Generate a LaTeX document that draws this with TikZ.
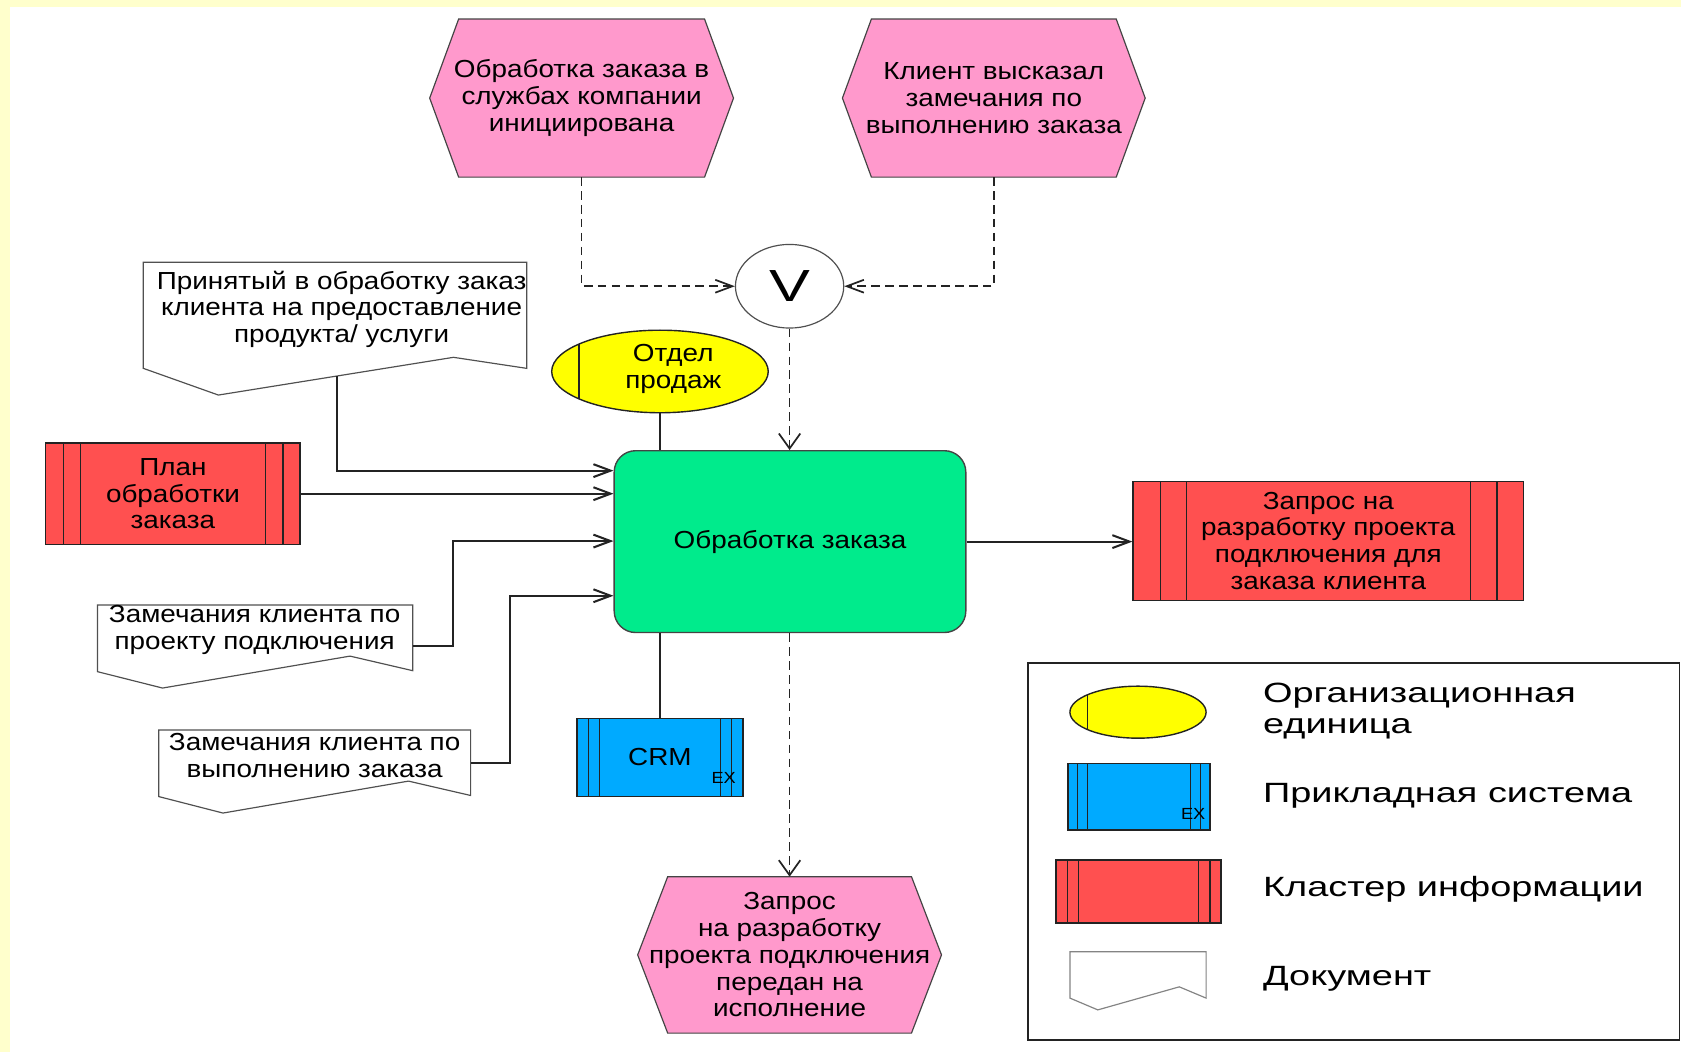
\documentclass[tikz,border=0pt]{standalone}
\usepackage{fontspec}
\setmainfont{Liberation Sans}[FakeStretch=1.13]
\newfontfamily\legendfont{Liberation Sans}[FakeStretch=1.36]
\usetikzlibrary{arrows.meta,calc,shapes.geometric}

\definecolor{pagebg}{RGB}{255,255,204}
\definecolor{evtpink}{RGB}{255,153,204}
\definecolor{fngreen}{RGB}{0,235,140}
\definecolor{infored}{RGB}{255,80,80}
\definecolor{sysblue}{RGB}{0,170,255}
\definecolor{orgyellow}{RGB}{255,255,0}
\definecolor{edge}{RGB}{35,35,35}
\definecolor{docedge}{RGB}{80,80,80}

\pgfdeclarelayer{canvas}
\pgfdeclarelayer{shapes}
\pgfsetlayers{canvas,shapes,main}

\tikzset{
  every node/.style={font=\fontsize{23}{25}\selectfont, text=black},
  txt/.style={inner sep=0pt, align=center},
  evtbox/.style={inner sep=0pt, align=center},
  evtline/.style={fill=evtpink, draw=edge!85, line width=1.1pt},
  fnbox/.style={draw=edge!85, line width=1.3pt, fill=fngreen, rounded corners=20pt, inner sep=0pt},
  orgunit/.style={ellipse, draw=edge, line width=1.3pt, fill=orgyellow, inner sep=0pt,
    path picture={
      \draw[edge, line width=1.3pt]
        ($(path picture bounding box.north west)!#1!(path picture bounding box.north east)$) --
        ($(path picture bounding box.south west)!#1!(path picture bounding box.south east)$);
    }},
  barred/.style={draw=edge, line width=1.4pt, inner sep=0pt, align=center,
    path picture={
      \foreach \f in {0.07,0.137,0.864,0.932}
        \draw[edge, line width=1.4pt]
          ($(path picture bounding box.north west)!\f!(path picture bounding box.north east)$) --
          ($(path picture bounding box.south west)!\f!(path picture bounding box.south east)$);
    }},
  cluster/.style={barred, fill=infored},
  sysbox/.style={barred, fill=sysblue},
  extag/.style={inner sep=0pt, font=\fontsize{15}{15}\selectfont},
  docline/.style={fill=white, draw=docedge, line width=1.1pt},
  xornode/.style={ellipse, draw=edge!80, line width=1.1pt, fill=white, inner sep=0pt,
    minimum width=101pt, minimum height=78pt, font=\legendfont\fontsize{42}{42}\selectfont},
  conn/.style={draw=edge, line width=1.9pt},
  dconn/.style={draw=edge, line width=1.6pt, dash pattern=on 8pt off 5pt},
  harrow/.style={-{Straight Barb[length=16pt,width=12pt]}},
  varrow/.style={-{Straight Barb[length=14pt,width=20pt]}},
  legtext/.style={inner sep=0pt, anchor=west, align=left,
    font=\legendfont\fontsize{26}{28.5}\selectfont},
}

% pink event hexagon behind a named event node
\newcommand\evthex[2]{%
  \begin{pgfonlayer}{shapes}
    \filldraw[evtline] (#1.west) -- ([xshift=#2]#1.north west) -- ([xshift=-#2]#1.north east)
      -- (#1.east) -- ([xshift=-#2]#1.south east) -- ([xshift=#2]#1.south west) -- cycle;
  \end{pgfonlayer}}

\begin{document}
\begin{tikzpicture}[x=1pt, y=-1pt]
  % page
  \begin{pgfonlayer}{canvas}
    \fill[pagebg] (0,0) rectangle (1568,981);
    \fill[white] (9.3,6.3) rectangle (1568,981);
  \end{pgfonlayer}
  \useasboundingbox (0,0) rectangle (1568,981);

  % events
  \node[evtbox, minimum width=283pt, minimum height=147pt] (h1) at (542.5,91.5)
    {Обработка заказа в\\службах компании\\инициирована};
  \evthex{h1}{27pt}
  \node[evtbox, minimum width=282pt, minimum height=147pt] (h2) at (927,91.5)
    {Клиент высказал\\замечания по\\выполнению заказа};
  \evthex{h2}{27pt}
  \node[evtbox, minimum width=283pt, minimum height=145.5pt] (h3) at (736.5,890.7)
    {Запрос\\на разработку\\проекта подключения\\передан на\\исполнение};
  \evthex{h3}{28pt}

  % XOR rule
  \node[xornode] (xor) at (736.5,267) {V};

  % function
  \node[fnbox, minimum width=328pt, minimum height=169.6pt] (fn) at (736.9,505.2) {Обработка заказа};

  % organisational unit
  \node[orgunit=0.126, minimum width=202pt, minimum height=77pt] (org) at (615.6,346.5) {};
  \node[txt] (orgtxt) at (628,344.3) {Отдел\\продаж};

  % application system
  \node[sysbox, minimum width=155pt, minimum height=73pt] (crm) at (615.5,706.5) {CRM};
  \node[extag] (crmex) at (675,726) {EX};

  % information clusters
  \node[cluster, minimum width=237.4pt, minimum height=95pt] (plan) at (161.3,460.5)
    {План\\обработки\\заказа};
  \node[cluster, minimum width=364pt, minimum height=111pt] (req) at (1239,504.5)
    {Запрос на\\разработку проекта\\подключения для\\заказа клиента};

  % documents
  \filldraw[docline] (133.7,244.7) -- (491.3,244.7) -- (491.3,343.6) -- (423,333.3)
    -- (203.7,368.5) -- (133.7,343.6) -- cycle;
  \node[txt] (d1) at (318.6,288.5)
    {Принятый в обработку заказ\\клиента на предоставление\\продукта/ услуги};
  \coordinate (d1out) at (314,350.8);

  \filldraw[docline] (90.9,564.4) -- (385,564.4) -- (385,625.6) -- (326.5,612)
    -- (151.6,641.8) -- (90.9,626.5) -- cycle;
  \node[txt] (d2) at (237.5,587.5) {Замечания клиента по\\проекту подключения};
  \coordinate (d2out) at (385,603);

  \filldraw[docline] (148,681) -- (439,681) -- (439,742) -- (381,728.6)
    -- (208,758.4) -- (148,743) -- cycle;
  \node[txt] (d3) at (293.5,704.5) {Замечания клиента по\\выполнению заказа};
  \coordinate (d3out) at (439,711.5);

  % control flow
  \draw[dconn, harrow] (h1.south) |- (xor.west);
  \draw[dconn, harrow] (h2.south) |- (xor.east);
  \draw[dconn, varrow] (xor.south) -- (xor.south |- fn.north);
  \draw[dconn, varrow] (h3.north |- fn.south) -- (h3.north);

  % assignments
  \draw[conn] (org.south) -- (org.south |- fn.north);
  \draw[conn] (crm.north |- fn.south) -- (crm.north);

  % inputs and output
  \draw[conn, harrow] (d1out) |- (fn.west |- 0,439);
  \draw[conn, harrow] (plan.east) -- (fn.west |- plan.east);
  \draw[conn, harrow] (d2out) -| (422.6,504.7) -- (fn.west |- 0,504.7);
  \draw[conn, harrow] (d3out) -| (476,555.7) -- (fn.west |- 0,555.7);
  \draw[conn, harrow] (fn.east) -- (req.west |- fn.east);

  % legend
  \draw[draw=edge, line width=1.6pt] (958.6,618.6) rectangle (1566.5,970);
  \node[orgunit=0.13, minimum width=127pt, minimum height=48.5pt] (lgorg) at (1061.5,664.3) {};
  \node[sysbox, minimum width=132.6pt, minimum height=62pt] (lgsys) at (1062.3,743) {};
  \node[extag] (lgex) at (1113,759) {EX};
  \node[cluster, minimum width=154pt, minimum height=59pt] (lgclu) at (1062,831.5) {};
  \filldraw[fill=white, draw=docedge!70, line width=1.1pt] (998,887.8) -- (1125,887.8) -- (1125,931)
    -- (1100,920.5) -- (1024,942) -- (998,931) -- cycle;
  \node[legtext] (lgt1) at (1178,663) {Организационная\\единица};
  \node[legtext] (lgt2) at (1178,742.6) {Прикладная система};
  \node[legtext] (lgt3) at (1178,829.5) {Кластер информации};
  \node[legtext] (lgt4) at (1178,913) {Документ};
\end{tikzpicture}
\end{document}
